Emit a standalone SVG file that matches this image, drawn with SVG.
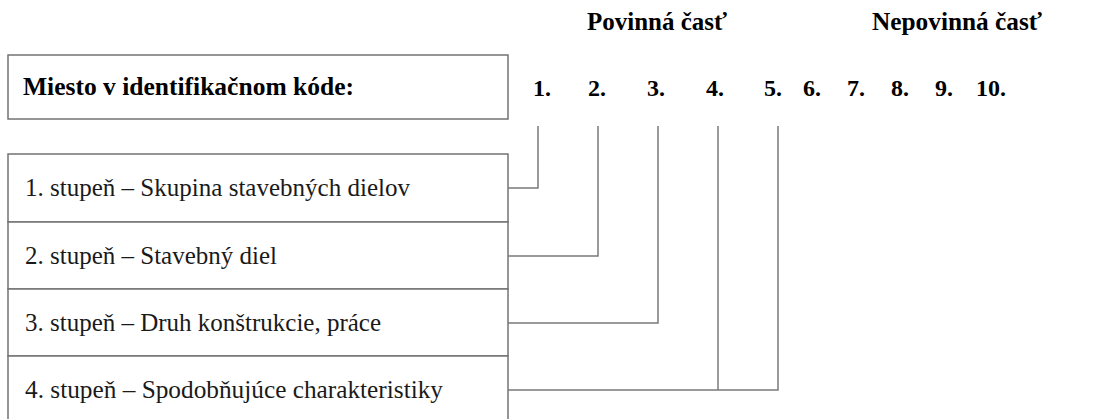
<svg xmlns="http://www.w3.org/2000/svg" width="1098" height="419" viewBox="0 0 1098 419">
  <style>
    .box { fill: #ffffff; stroke: #737373; stroke-width: 1.5; }
    .wire { fill: none; stroke: #7a7a7a; stroke-width: 1.5; }
    .hdr { font-weight: bold; font-size: 25px; fill: #000; }
    .num { font-weight: bold; font-size: 24px; fill: #000; }
    .lbl { font-size: 25px; fill: #1a1a1a; }
  </style>
  <rect width="1098" height="419" fill="#ffffff"/>

  <g font-family="'Liberation Serif', 'Times New Roman', 'DejaVu Serif', serif">
    <!-- section headings -->
    <g id="headings">
      <text class="hdr" x="587" y="30" textLength="140" lengthAdjust="spacingAndGlyphs">Povinná časť</text>
      <text class="hdr" x="872" y="30" textLength="170" lengthAdjust="spacingAndGlyphs">Nepovinná časť</text>
    </g>

    <!-- code position row -->
    <g id="code-positions">
      <rect class="box" x="8" y="55" width="500" height="64"/>
      <text class="hdr" x="23" y="95" textLength="331" lengthAdjust="spacingAndGlyphs">Miesto v identifikačnom kóde:</text>
    </g>
    <g id="position-numbers">
      <text class="num" x="533" y="96">1.</text>
      <text class="num" x="588" y="96">2.</text>
      <text class="num" x="647" y="96">3.</text>
      <text class="num" x="706" y="96">4.</text>
      <text class="num" x="764" y="96">5.</text>
      <text class="num" x="803" y="96">6.</text>
      <text class="num" x="847" y="96">7.</text>
      <text class="num" x="891" y="96">8.</text>
      <text class="num" x="935" y="96">9.</text>
      <text class="num" x="976" y="96">10.</text>
    </g>

    <!-- level boxes -->
    <g id="level-1">
      <rect class="box" x="8" y="154" width="500" height="68"/>
      <text class="lbl" x="25" y="196" textLength="385" lengthAdjust="spacingAndGlyphs">1. stupeň – Skupina stavebných dielov</text>
    </g>
    <g id="level-2">
      <rect class="box" x="8" y="222" width="500" height="67"/>
      <text class="lbl" x="25" y="264" textLength="252" lengthAdjust="spacingAndGlyphs">2. stupeň – Stavebný diel</text>
    </g>
    <g id="level-3">
      <rect class="box" x="8" y="289" width="500" height="67"/>
      <text class="lbl" x="25" y="331" textLength="356" lengthAdjust="spacingAndGlyphs">3. stupeň – Druh konštrukcie, práce</text>
    </g>
    <g id="level-4">
      <rect class="box" x="8" y="356" width="500" height="70"/>
      <text class="lbl" x="25" y="398" textLength="418" lengthAdjust="spacingAndGlyphs">4. stupeň – Spodobňujúce charakteristiky</text>
    </g>
  </g>

  <!-- connectors from code positions to levels -->
  <g id="connectors">
    <polyline class="wire" points="538,126 538,188 508,188"/>
    <polyline class="wire" points="598,126 598,256 508,256"/>
    <polyline class="wire" points="658,126 658,323 508,323"/>
    <polyline class="wire" points="718,126 718,390"/>
    <polyline class="wire" points="778,126 778,390 508,390"/>
  </g>
</svg>
